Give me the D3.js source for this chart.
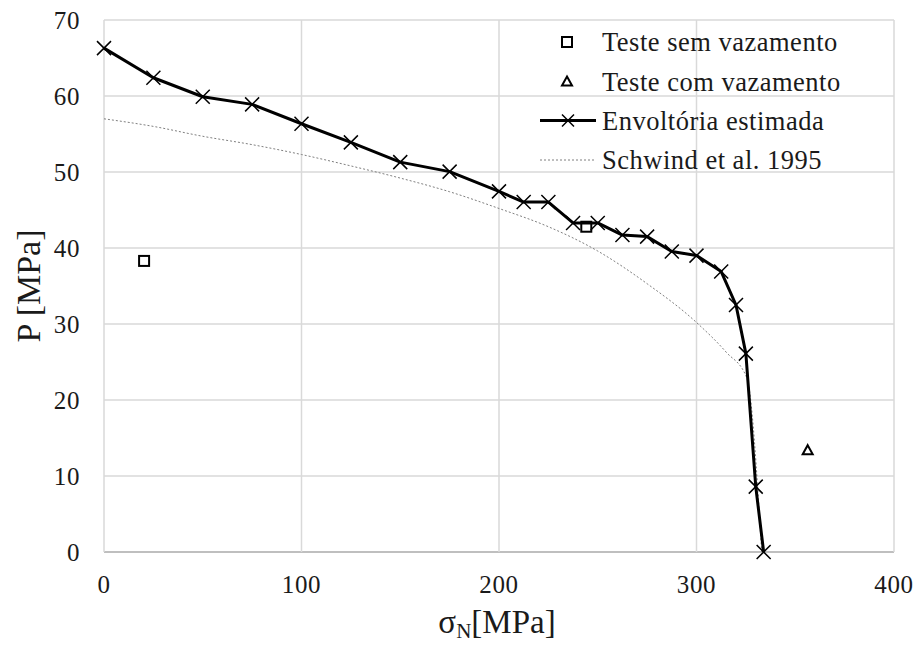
<!DOCTYPE html>
<html><head><meta charset="utf-8">
<script src="https://cdn.jsdelivr.net/npm/d3@7"></script>
<style>body{margin:0;background:#fff}svg{display:block}text{font-family:"Liberation Serif",serif;fill:#1a1a1a}</style>
</head><body>
<svg id="c" width="920" height="647"></svg>
<script>
// Data
const envX = [0,25,50,75,100,125,150,175,200,212.5,225,237.5,250,262.5,275,287.5,300,312.5,320,325,330,334];
const envY = [66.3,62.4,59.9,58.9,56.35,53.9,51.3,50.05,47.45,46.05,46.05,43.3,43.3,41.7,41.5,39.55,39.0,36.9,32.5,26.1,8.6,0];
const schX = [0,25,50,75,100,125,150,175,200,225,250,275,300,315,325.5,333];
const schY = [57.0,56.0,54.7,53.6,52.3,50.8,49.2,47.4,45.2,42.8,39.6,35.3,30.2,26.3,22.9,0];
const semX = [20.3,244.2];
const semY = [38.3,42.8];
const comX = [356.3];
const comY = [13.4];
const xTicks = [0,100,200,300,400];
const yTicks = [0,10,20,30,40,50,60,70];
const legendLabels = ["Teste sem vazamento","Teste com vazamento","Envoltória estimada","Schwind et al. 1995"];

const svg = d3.select("#c");
const x = d3.scaleLinear().domain([0,400]).range([104,894]);
const y = d3.scaleLinear().domain([0,70]).range([552,20]);

// grid
svg.append("g").selectAll("line").data(yTicks).join("line")
  .attr("x1",x(0)).attr("x2",x(400)).attr("y1",d=>y(d)).attr("y2",d=>y(d))
  .attr("stroke",d=>d===0?"#bfbfbf":"#d9d9d9").attr("stroke-width",d=>d===0?2:1.5);
svg.append("g").selectAll("line").data(xTicks).join("line")
  .attr("y1",y(0)).attr("y2",y(70)).attr("x1",d=>x(d)).attr("x2",d=>x(d))
  .attr("stroke","#d9d9d9").attr("stroke-width",1.5);

// tick labels
svg.append("g").selectAll("text").data(yTicks).join("text")
  .attr("x",80).attr("y",d=>y(d)).attr("dy","0.35em").attr("text-anchor","end")
  .attr("font-size",25).attr("letter-spacing",0.6).text(d=>d);
svg.append("g").selectAll("text").data(xTicks).join("text")
  .attr("x",d=>x(d)).attr("y",593).attr("text-anchor","middle")
  .attr("font-size",25).attr("letter-spacing",0.6).text(d=>d);

// axis titles
const xt = svg.append("text").attr("x",497).attr("y",633).attr("text-anchor","middle").attr("font-size",33);
xt.append("tspan").text("σ");
xt.append("tspan").attr("font-size",21).attr("dy",5).text("N");
xt.append("tspan").attr("dy",-5).text("[MPa]");
svg.append("text").attr("transform","translate(40,286) rotate(-90)").attr("text-anchor","middle")
  .attr("font-size",34).text("P [MPa]");

// Schwind curve
const schData = schX.map((v,i)=>[v,schY[i]]);
svg.append("path").datum(schData)
  .attr("d",d3.line().x(d=>x(d[0])).y(d=>y(d[1])).curve(d3.curveMonotoneX))
  .attr("fill","none").attr("stroke","#7f7f7f").attr("stroke-width",1).attr("stroke-dasharray","2,2");

// Envelope
const envData = envX.map((v,i)=>[v,envY[i]]);
svg.append("path").datum(envData)
  .attr("d",d3.line().x(d=>x(d[0])).y(d=>y(d[1])))
  .attr("fill","none").attr("stroke","#000").attr("stroke-width",3).attr("stroke-linejoin","round");
const cross = (g,cx,cy,s)=>{
  g.append("path").attr("d",`M${cx-s},${cy-s}L${cx+s},${cy+s}M${cx-s},${cy+s}L${cx+s},${cy-s}`)
   .attr("stroke","#000").attr("stroke-width",1.5).attr("fill","none");
};
const mk = svg.append("g");
envData.forEach(d=>cross(mk,x(d[0]),y(d[1]),7));

// squares
svg.append("g").selectAll("rect").data(semX.map((v,i)=>[v,semY[i]])).join("rect")
  .attr("x",d=>x(d[0])-5).attr("y",d=>y(d[1])-5).attr("width",10).attr("height",10)
  .attr("fill","none").attr("stroke","#000").attr("stroke-width",2);
// triangles
const tri = (cx,cy)=>`M${cx},${cy-5}L${cx+5},${cy+4}L${cx-5},${cy+4}Z`;
svg.append("g").selectAll("path").data(comX.map((v,i)=>[v,comY[i]])).join("path")
  .attr("d",d=>tri(x(d[0]),y(d[1])))
  .attr("fill","none").attr("stroke","#000").attr("stroke-width",2);

// legend
const lg = svg.append("g");
const rows = [42,81.5,120.5,160];
lg.selectAll("text").data(legendLabels).join("text")
  .attr("x",602).attr("y",(d,i)=>rows[i]).attr("dy","0.35em").attr("font-size",26.5)
  .attr("letter-spacing",0.5).text(d=>d);
lg.append("rect").attr("x",562).attr("y",rows[0]-5).attr("width",10).attr("height",10)
  .attr("fill","none").attr("stroke","#000").attr("stroke-width",2);
lg.append("path").attr("d",tri(567,rows[1])).attr("fill","none").attr("stroke","#000").attr("stroke-width",2);
lg.append("line").attr("x1",540).attr("x2",596).attr("y1",rows[2]).attr("y2",rows[2]).attr("stroke","#000").attr("stroke-width",3);
cross(lg,568,rows[2],6);
lg.append("line").attr("x1",540).attr("x2",596).attr("y1",rows[3]).attr("y2",rows[3])
  .attr("stroke","#7f7f7f").attr("stroke-width",1).attr("stroke-dasharray","2,2");
</script>
</body></html>
